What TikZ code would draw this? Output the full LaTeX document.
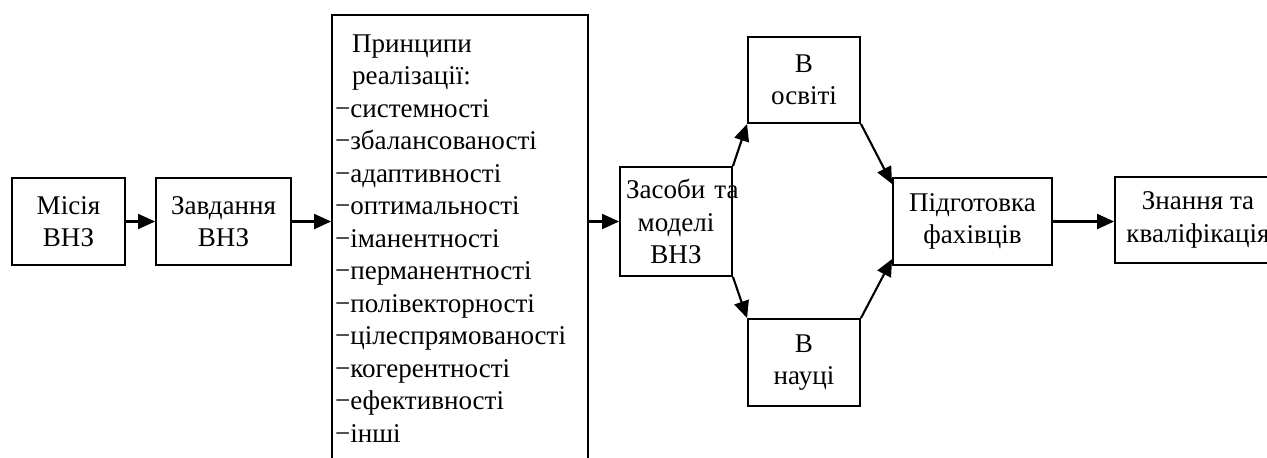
\documentclass[tikz,border=0pt]{standalone}
\usepackage{fontspec}
\setmainfont{Liberation Serif}
\usetikzlibrary{arrows.meta}

\begin{document}
\begin{tikzpicture}[x=0.02cm, y=-0.02cm,
        blok/.style={draw, line width=1.1pt, inner sep=0pt, align=center,
            minimum height=1.74cm, font=\fontsize{15.4}{18.5}\selectfont},
        strilka/.style={-{Triangle[length=0.34cm, width=0.3cm]}, line width=1.2pt}]
    \useasboundingbox (0, 0) rectangle (1267, 457);

    \node[blok, minimum width=2.26cm] (misia) at (68.5, 221.5) {Місія\\ВНЗ};
    \node[blok, minimum width=2.7cm] (zavd) at (223.5, 221.5) {Завдання\\ВНЗ};
    \node[blok, align=left, text width=5cm, inner xsep=0.06cm,
        minimum height=8.94cm] (princ) at (460, 238.5) {
            \hspace*{0.34cm}Принципи\\
            \hspace*{0.34cm}реалізації:\\
            −системності\\
            −збалансованості\\
            −адаптивності\\
            −оптимальності\\
            −іманентності\\
            −перманентності\\
            −полівекторності\\
            −цілеспрямованості\\
            −когерентності\\
            −ефективності\\
            −інші
        };
    \node[blok, text width=2cm, inner xsep=0.12cm, minimum height=2.18cm]
        (zasoby) at (676, 221.5) {Засоби~та\\моделі\\ВНЗ};
    \node[blok, minimum width=2.24cm, minimum height=1.72cm] (osvita) at (804, 80) {В\\освіті};
    \node[blok, minimum width=2.24cm] (nauka) at (804, 362.5) {В\\науці};
    \node[blok, minimum width=3.18cm] (pidg) at (972.5, 221.5) {Підготовка\\фахівців};
    \node[blok, minimum width=3.32cm, minimum height=1.72cm] (znan) at (1198, 220) {Знання та\\кваліфікація};

    % strilky
    \draw[strilka] (misia) -- (zavd);
    \draw[strilka] (zavd.east) -- (zavd.east -| princ.west);
    \draw[strilka] (princ.east |- zasoby.west) -- (zasoby.west);
    \draw[strilka] (zasoby.north east) -- (osvita.south west);
    \draw[strilka] (zasoby.south east) -- (nauka.north west);
    \draw[strilka] (osvita.south east) -- (pidg.155);
    \draw[strilka] (nauka.north east) -- (pidg.205);
    \draw[strilka] (pidg.east) -- (pidg.east -| znan.west);
\end{tikzpicture}
\end{document}
